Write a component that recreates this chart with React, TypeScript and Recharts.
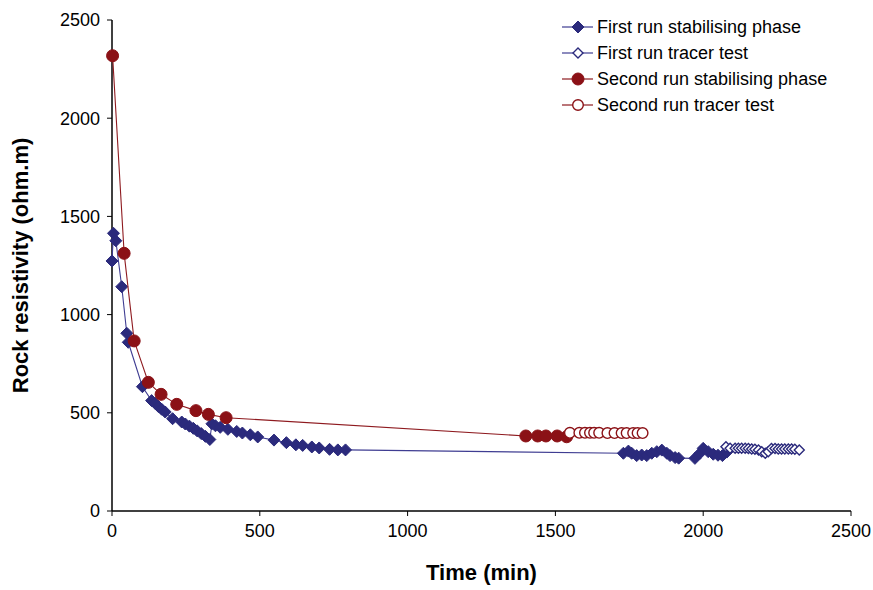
import React from "react";
import { ScatterChart, Scatter, XAxis, YAxis, Label } from "recharts";

const xTicks = [0, 500, 1000, 1500, 2000, 2500];
const yTicks = [0, 500, 1000, 1500, 2000, 2500];

const firstRunStabTime = [0, 5, 13, 33, 50, 55, 103, 134, 146, 157, 168, 180, 205, 236, 248, 262, 275, 288, 302, 316, 331, 338, 350, 366, 392, 422, 441, 468, 493, 548, 590, 622, 645, 676, 701, 736, 764, 790, 1730, 1747, 1758, 1775, 1792, 1809, 1826, 1843, 1860, 1877, 1888, 1905, 1917, 1972, 1989, 2000, 2017, 2034, 2050, 2065, 2080];
const firstRunStabRes = [1273, 1414, 1376, 1142, 905, 859, 633, 562, 548, 532, 518, 504, 470, 453, 443, 432, 421, 408, 394, 380, 364, 444, 434, 426, 416, 405, 397, 388, 377, 361, 348, 337, 334, 326, 321, 314, 311, 311, 294, 305, 294, 282, 285, 282, 294, 302, 310, 294, 282, 272, 269, 268, 294, 319, 302, 289, 284, 282, 300];

const firstRunTracerTime = [2077, 2091, 2108, 2119, 2130, 2142, 2153, 2164, 2175, 2187, 2198, 2210, 2220, 2231, 2243, 2254, 2265, 2276, 2288, 2299, 2310, 2325];
const firstRunTracerRes = [327, 320, 320, 320, 320, 320, 318, 316, 314, 311, 302, 294, 302, 318, 318, 316, 316, 316, 316, 316, 314, 311];

const secondRunStabTime = [2, 41, 75, 123, 166, 219, 284, 326, 386, 1400, 1440, 1468, 1506, 1538];
const secondRunStabRes = [2318, 1312, 866, 655, 594, 543, 511, 492, 475, 382, 382, 382, 382, 378];

const secondRunTracerTime = [1549, 1581, 1600, 1617, 1631, 1648, 1676, 1700, 1724, 1741, 1763, 1778, 1795];
const secondRunTracerRes = [398, 398, 398, 398, 398, 398, 397, 397, 397, 397, 397, 397, 397];

const zip = (xs: number[], ys: number[]) => xs.map((x, i) => ({ x, y: ys[i] }));

const BLUE = "#2B2A7C";
const BLUE_LINE = "#3F3D92";
const RED = "#8B1116";
const RED_LINE = "#8E1A1F";

type MarkerKind = "diamond" | "circle";

const Marker = ({ cx, cy, kind, filled, color }: { cx: number; cy: number; kind: MarkerKind; filled: boolean; color: string }) => {
  if (cx == null || cy == null) return null;
  if (kind === "diamond") {
    const r = filled ? 6 : 5;
    return (
      <path
        d={`M${cx},${cy - r} L${cx + r},${cy} L${cx},${cy + r} L${cx - r},${cy} Z`}
        fill={filled ? color : "#fff"}
        stroke={color}
        strokeWidth={filled ? 1 : 1.4}
      />
    );
  }
  return (
    <circle
      cx={cx}
      cy={cy}
      r={filled ? 6 : 5.3}
      fill={filled ? color : "#fff"}
      stroke={color}
      strokeWidth={filled ? 1 : 1.4}
    />
  );
};

const series = [
  { name: "First run stabilising phase", data: zip(firstRunStabTime, firstRunStabRes), kind: "diamond" as MarkerKind, filled: true, color: BLUE, line: BLUE_LINE },
  { name: "First run tracer test", data: zip(firstRunTracerTime, firstRunTracerRes), kind: "diamond" as MarkerKind, filled: false, color: BLUE, line: BLUE_LINE },
  { name: "Second run stabilising phase", data: zip(secondRunStabTime, secondRunStabRes), kind: "circle" as MarkerKind, filled: true, color: RED, line: RED_LINE },
  { name: "Second run tracer test", data: zip(secondRunTracerTime, secondRunTracerRes), kind: "circle" as MarkerKind, filled: false, color: RED, line: RED_LINE },
];

const FONT = "'Liberation Sans', Arial, sans-serif";

const LegendContent = () => (
  <div style={{ position: "absolute", left: 555, top: 14, fontFamily: FONT, fontSize: 18, color: "#000" }}>
    {series.map((s) => (
      <div key={s.name} style={{ display: "flex", alignItems: "center", height: 26 }}>
        <svg width={42} height={26} style={{ display: "block" }}>
          <line x1={7} y1={13} x2={38} y2={13} stroke={s.line} strokeWidth={1.2} />
          <Marker cx={23} cy={13} kind={s.kind} filled={s.filled} color={s.color} />
        </svg>
        <span style={{ whiteSpace: "nowrap", lineHeight: "26px" }}>{s.name}</span>
      </div>
    ))}
  </div>
);

export default function App() {
  return (
    <div style={{ position: "absolute", left: 0, top: 0, width: 873, height: 590, background: "#fff" }}>
      <ScatterChart width={873} height={590} margin={{ top: 20, right: 22, left: 0, bottom: 0 }}>
        <XAxis
          type="number"
          dataKey="x"
          domain={[0, 2500]}
          ticks={xTicks}
          interval={0}
          height={79}
          axisLine={{ stroke: "#000", strokeWidth: 1.5 }}
          tickLine={{ stroke: "#000", strokeWidth: 1 }}
          tickSize={5}
          tickMargin={8}
          tick={{ fill: "#000", fontSize: 18, fontFamily: FONT }}
        >
          <Label value="Time (min)" position="insideBottom" offset={10} style={{ fontFamily: FONT, fontSize: 22, fontWeight: "bold", fill: "#000", textAnchor: "middle" }} />
        </XAxis>
        <YAxis
          type="number"
          dataKey="y"
          domain={[0, 2500]}
          ticks={yTicks}
          interval={0}
          width={112}
          axisLine={{ stroke: "#000", strokeWidth: 1.5 }}
          tickLine={{ stroke: "#000", strokeWidth: 1 }}
          tickSize={5}
          tickMargin={7}
          tick={{ fill: "#000", fontSize: 18, fontFamily: FONT }}
        >
          <Label value="Rock resistivity (ohm.m)" angle={-90} position="insideLeft" offset={20} style={{ fontFamily: FONT, fontSize: 22, fontWeight: "bold", fill: "#000", textAnchor: "middle" }} />
        </YAxis>
        {series.map((s) => (
          <Scatter
            key={s.name}
            name={s.name}
            data={s.data}
            line={{ stroke: s.line, strokeWidth: 1.1 }}
            lineType="joint"
            isAnimationActive={false}
            shape={(p: any) => <Marker cx={p.cx} cy={p.cy} kind={s.kind} filled={s.filled} color={s.color} />}
          />
        ))}
      </ScatterChart>
      <LegendContent />
    </div>
  );
}
